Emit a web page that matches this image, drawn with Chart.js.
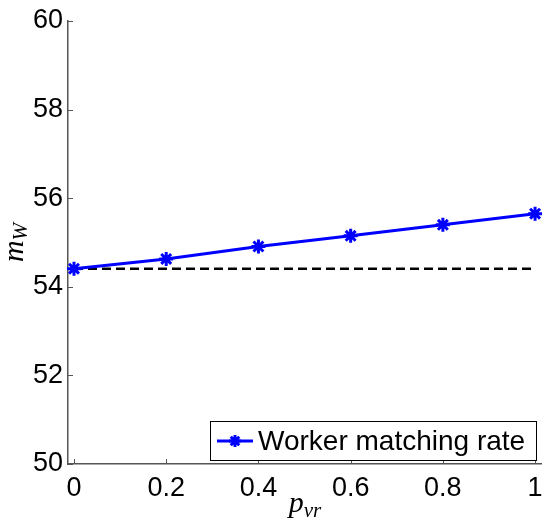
<!DOCTYPE html>
<html>
<head>
<meta charset="utf-8">
<script src="https://cdn.jsdelivr.net/npm/chart.js@4/dist/chart.umd.min.js"></script>
<style>
  html, body { margin: 0; padding: 0; background: #fff; overflow: hidden; }
  #wrap { width: 542px; height: 527px; position: relative; }
</style>
</head>
<body>
<div id="wrap"><canvas id="chart"></canvas></div>
<script>
// Worker matching rate against p_vr
const pvr = [0, 0.2, 0.4, 0.6, 0.8, 1];
const matchingRate = [54.41, 54.63, 54.91, 55.15, 55.40, 55.65];
const baselineRate = [54.41, 54.41];
const baselineX = [0, 1];
const xTicks = [0, 0.2, 0.4, 0.6, 0.8, 1];
const yTicks = [50, 52, 54, 56, 58, 60];

const AXIS_COLOR = '#555';
const TICK_FONT = { family: 'Liberation Sans, Arial, sans-serif', size: 27 };
const MATH_BIG = 'italic 30px "Liberation Serif", "Times New Roman", serif';
const MATH_SUB = 'italic 21px "Liberation Serif", "Times New Roman", serif';

// inward tick marks + axis titles + legend box
const extras = {
  id: 'extras',
  afterDraw(chart) {
    const ctx = chart.ctx;
    const xs = chart.scales.x, ys = chart.scales.y;
    const area = chart.chartArea;
    ctx.save();
    ctx.strokeStyle = AXIS_COLOR;
    ctx.lineWidth = 1;
    xTicks.forEach(v => {
      const px = Math.round(xs.getPixelForValue(v)) + 0.5;
      ctx.beginPath();
      ctx.moveTo(px, area.bottom);
      ctx.lineTo(px, area.bottom - 5);
      ctx.stroke();
    });
    yTicks.forEach(v => {
      const py = Math.round(ys.getPixelForValue(v)) + 0.5;
      ctx.beginPath();
      ctx.moveTo(area.left, py);
      ctx.lineTo(area.left + 5, py);
      ctx.stroke();
    });

    // axis titles
    ctx.fillStyle = '#000';
    ctx.textBaseline = 'alphabetic';
    ctx.font = MATH_BIG;
    const pW = ctx.measureText('p').width;
    ctx.font = MATH_SUB;
    const subW = ctx.measureText('vr').width;
    const x0 = (area.left + area.right) / 2 - (pW + subW) / 2;
    ctx.font = MATH_BIG;
    ctx.fillText('p', x0, 512);
    ctx.font = MATH_SUB;
    ctx.fillText('vr', x0 + pW, 517);

    ctx.save();
    ctx.translate(23, (area.top + area.bottom) / 2);
    ctx.rotate(-Math.PI / 2);
    ctx.font = MATH_BIG;
    const mW = ctx.measureText('m').width;
    ctx.font = MATH_SUB;
    const wW = ctx.measureText('W').width;
    const y0 = -(mW + wW) / 2;
    ctx.font = MATH_BIG;
    ctx.fillText('m', y0, 0);
    ctx.font = MATH_SUB;
    ctx.fillText('W', y0 + mW, 4);
    ctx.restore();

    // legend
    const ds = chart.data.datasets[0];
    const bx = 210.5, by = 421.5, bw = 326, bh = 39;
    ctx.fillStyle = '#fff';
    ctx.fillRect(bx, by, bw, bh);
    ctx.strokeStyle = '#000';
    ctx.lineWidth = 1;
    ctx.strokeRect(bx, by, bw, bh);
    const cy = by + bh / 2;
    ctx.strokeStyle = ds.borderColor;
    ctx.lineWidth = 3;
    ctx.beginPath();
    ctx.moveTo(217, cy);
    ctx.lineTo(253, cy);
    ctx.stroke();
    Chart.helpers.drawPoint(ctx, {
      pointStyle: 'star', radius: 6, borderWidth: 3
    }, 235, cy);
    ctx.fillStyle = '#000';
    ctx.font = '28px "Liberation Sans", Arial, sans-serif';
    ctx.textBaseline = 'middle';
    ctx.fillText(ds.label, 258, cy + 1);
    ctx.restore();
  }
};

new Chart(document.getElementById('chart'), {
  type: 'line',
  data: {
    datasets: [
      {
        label: 'Worker matching rate',
        data: pvr.map((x, i) => ({ x: x, y: matchingRate[i] })),
        borderColor: '#0000ff',
        backgroundColor: '#0000ff',
        borderWidth: 3,
        pointStyle: 'star',
        pointRadius: 7,
        pointBorderWidth: 3,
        pointHoverRadius: 7,
        tension: 0,
        clip: false,
        order: 0
      },
      {
        label: 'baseline',
        data: baselineX.map((x, i) => ({ x: x, y: baselineRate[i] })),
        borderColor: '#000',
        borderWidth: 2.5,
        borderDash: [9, 5],
        pointRadius: 0,
        tension: 0,
        order: 1
      }
    ]
  },
  options: {
    responsive: true,
    maintainAspectRatio: false,
    animation: false,
    events: [],
    layout: { padding: { top: 21, right: 0, left: 0, bottom: 0 }, autoPadding: false },
    plugins: { legend: { display: false }, tooltip: { enabled: false } },
    scales: {
      x: {
        type: 'linear',
        min: -0.013,
        max: 1.015,
        afterBuildTicks: s => { s.ticks = xTicks.map(v => ({ value: v })); },
        afterFit: s => { s.height = 63; s.paddingLeft = 0; s.paddingRight = 0; },
        grid: { display: true, drawOnChartArea: false, drawTicks: false },
        border: { display: true, color: AXIS_COLOR, width: 1.5 },
        ticks: {
          color: '#000',
          font: TICK_FONT,
          padding: 8,
          maxRotation: 0,
          callback: v => String(v)
        }
      },
      y: {
        type: 'linear',
        min: 50,
        max: 60,
        afterBuildTicks: s => { s.ticks = yTicks.map(v => ({ value: v })); },
        afterFit: s => { s.width = 68; s.paddingTop = 0; s.paddingBottom = 0; },
        grid: { display: true, drawOnChartArea: false, drawTicks: false },
        border: { display: true, color: AXIS_COLOR, width: 1.5 },
        ticks: {
          color: '#000',
          font: TICK_FONT,
          padding: 5,
          callback: v => String(v)
        }
      }
    }
  },
  plugins: [extras]
});
</script>
</body>
</html>
